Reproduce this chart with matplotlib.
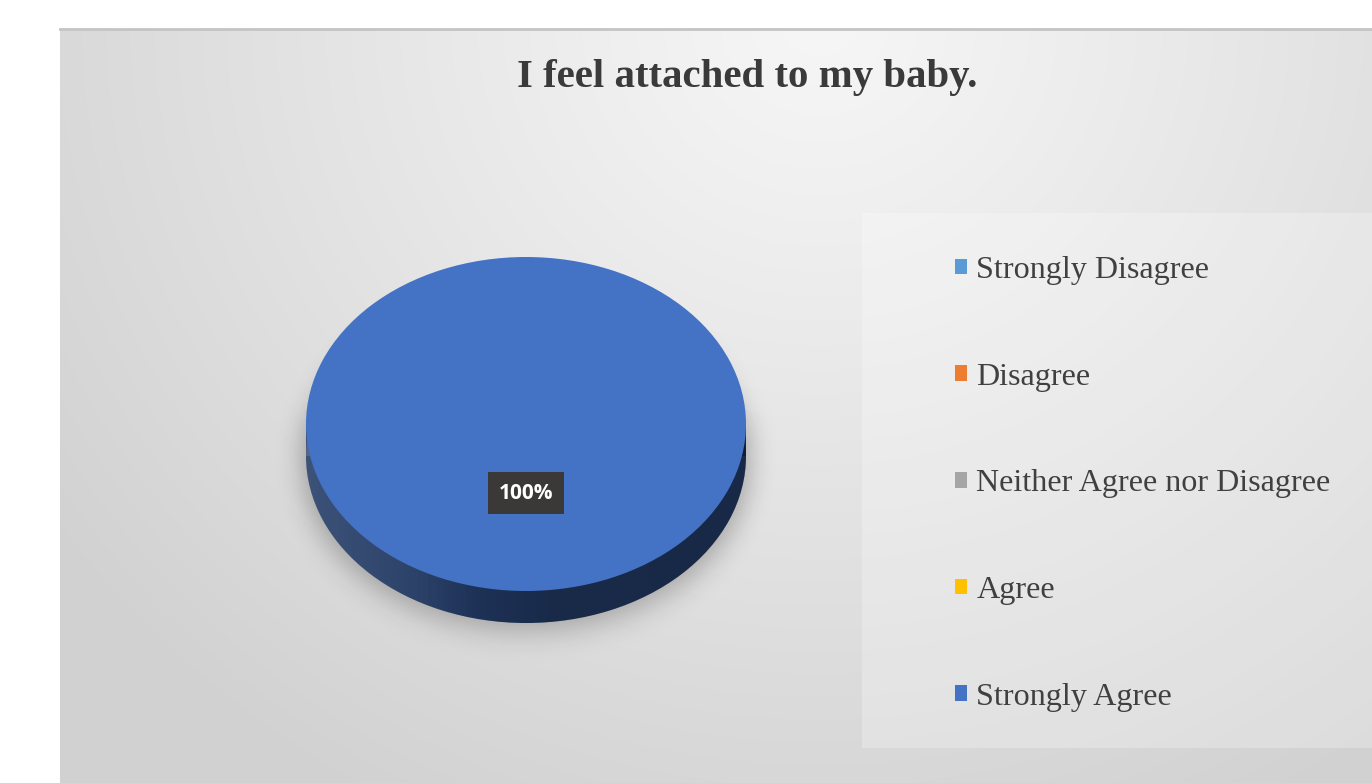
import numpy as np
import matplotlib
matplotlib.use("Agg")
import matplotlib.pyplot as plt
from matplotlib.patches import Rectangle, Patch
from matplotlib.colors import to_rgb

# ---- data ----
title = "I feel attached to my baby."
categories = ["Strongly Disagree", "Disagree", "Neither Agree nor Disagree", "Agree", "Strongly Agree"]
values = [0, 0, 0, 0, 100]
colors = ["#5B9BD5", "#ED7D31", "#A5A5A5", "#FFC000", "#4472C4"]

W, H = 1372, 783
fig = plt.figure(figsize=(W / 100, H / 100), dpi=100)
fig.patch.set_facecolor("white")

def fx(px):
    return px / W

def fy(py):
    return 1 - py / H

# ---- background panel with gradient ----
panel_left, panel_top = 60, 29
bg = fig.add_axes([fx(panel_left), 0, 1 - fx(panel_left), fy(panel_top)])
bg.set_axis_off()
gw, gh = 400, 240
xx, yy = np.meshgrid(np.linspace(panel_left, W, gw), np.linspace(panel_top, H, gh))
dist = np.sqrt(((xx - 820) / 950) ** 2 + ((yy - 20) / 900) ** 2)
dist = np.clip(dist, 0, 1)
inner, outer = 0.965, 0.82
gval = inner + (outer - inner) * dist ** 1.1
img = np.dstack([gval, gval, gval])
bg.imshow(img, extent=[0, 1, 0, 1], aspect="auto", interpolation="bilinear")
bg.set_xlim(0, 1)
bg.set_ylim(0, 1)
bg.plot([0, 1], [1, 1], color="#c4c4c4", lw=2, transform=bg.transAxes, clip_on=False)

# legend box
lx0, ly0, lx1, ly1 = 862, 213, 1372, 748
bg.add_patch(Rectangle(((lx0 - panel_left) / (W - panel_left), 1 - (ly1 - panel_top) / (H - panel_top)),
                       (lx1 - lx0) / (W - panel_left), (ly1 - ly0) / (H - panel_top),
                       transform=bg.transAxes, facecolor="white", alpha=0.25, edgecolor="none"))

# ---- pie axes ----
cx, cy, rx, ry, depth_px = 526, 424, 220, 167, 32
ax_l, ax_r, ax_t, ax_b = 250, 802, 230, 690
ax = fig.add_axes([fx(ax_l), fy(ax_b), (ax_r - ax_l) / W, (ax_b - ax_t) / H])
xlim = ((ax_l - cx) / rx, (ax_r - cx) / rx)
ylim = ((cy - ax_b) / ry, (cy - ax_t) / ry)
d = depth_px / ry

def darken(c, f):
    r, g_, b = to_rgb(c)
    return (r * f, g_ * f, b * f)

# soft blurred shadow beneath the pie body
nx, ny = 360, 300
sx = np.linspace(xlim[0], xlim[1], nx)
sy = np.linspace(ylim[0], ylim[1], ny)
SX, SY = np.meshgrid(sx, sy)
mask = ((SX / 1.02) ** 2 + ((SY + d + 0.04) / 1.0) ** 2 <= 1) | ((np.abs(SX) <= 1.02) & (SY <= 0) & (SY >= -d))
mask = mask.astype(float)

def gauss_blur(a, sig_x, sig_y):
    def k(s):
        r = int(3 * s) + 1
        t = np.arange(-r, r + 1)
        kk = np.exp(-0.5 * (t / s) ** 2)
        return kk / kk.sum()
    kx, ky = k(sig_x), k(sig_y)
    a = np.apply_along_axis(lambda m: np.convolve(m, kx, mode="same"), 1, a)
    a = np.apply_along_axis(lambda m: np.convolve(m, ky, mode="same"), 0, a)
    return a

blur = gauss_blur(mask, 8, 10)
shadow = np.zeros((ny, nx, 4))
shadow[..., 3] = 0.28 * blur
ax.imshow(shadow, extent=[xlim[0], xlim[1], ylim[0], ylim[1]], origin="lower", aspect="auto",
          zorder=1, interpolation="bilinear")

# side / bottom of the 3D pie
main = int(np.argmax(values))
side_col = darken(colors[main], 0.52)
bot_wedges, _ = ax.pie(values, colors=[darken(c, 0.52) for c in colors], startangle=90,
                       counterclock=False, center=(0, -d), radius=1, frame=True,
                       wedgeprops=dict(linewidth=0, zorder=2))
side_rect = Rectangle((-1, -d), 2, d, facecolor=side_col, edgecolor="none", zorder=2)
ax.add_patch(side_rect)
grad = np.linspace(0, 1, 256)
shade = np.zeros((2, 256, 4))
shade[..., 3] = np.interp(grad, [0, 0.25, 0.55, 1], [0.0, 0.05, 0.28, 0.3])
lights = np.zeros((2, 256, 4))
lights[..., :3] = 1
lights[..., 3] = np.interp(grad, [0, 0.2, 0.4, 1], [0.12, 0.07, 0.0, 0.0])
for clip in [side_rect] + list(bot_wedges):
    for im in (shade, lights):
        a = ax.imshow(im, extent=[-1, 1, -d - 1.05, 0], aspect="auto", zorder=3, interpolation="bilinear")
        a.set_clip_path(clip)

# top face
wedges, _ = ax.pie(values, colors=colors, startangle=90, counterclock=False,
                   center=(0, 0), radius=1, frame=True, wedgeprops=dict(linewidth=0, zorder=4))
ax.set_aspect("auto")
ax.set_xlim(*xlim)
ax.set_ylim(*ylim)
ax.set_axis_off()

# data labels
total = sum(values)
for w, v in zip(wedges, values):
    if v <= 0:
        continue
    ang = np.deg2rad((w.theta1 + w.theta2) / 2)
    r_lab = 0.415
    ax.text(r_lab * np.cos(ang), r_lab * np.sin(ang), f"{v / total * 100:.0f}%",
            ha="center", va="center", color="white", fontsize=15, fontweight="bold",
            family=["Open Sans", "DejaVu Sans"], zorder=6,
            bbox=dict(boxstyle="square,pad=0.5", facecolor="#3b3838", edgecolor="none"))

# ---- title ----
fig.text(fx(747), fy(78), title, ha="center", va="center", fontsize=29.4, fontweight="bold",
         family=["Liberation Serif", "DejaVu Serif"], color="#3a3a3a")

# ---- legend ----
handles = [Patch(facecolor=c, edgecolor="none") for c in colors]
leg = fig.legend(handles, categories, loc="upper left", bbox_to_anchor=(fx(955), fy(256)),
                 frameon=False, prop=dict(family="Liberation Serif", size=23.1),
                 handlelength=0.37, handleheight=0.37, handletextpad=0.3,
                 labelspacing=2.42, borderaxespad=0, borderpad=0)
for t in leg.get_texts():
    t.set_color("#404040")

fig.savefig("out.png", dpi=100, facecolor=fig.get_facecolor())
